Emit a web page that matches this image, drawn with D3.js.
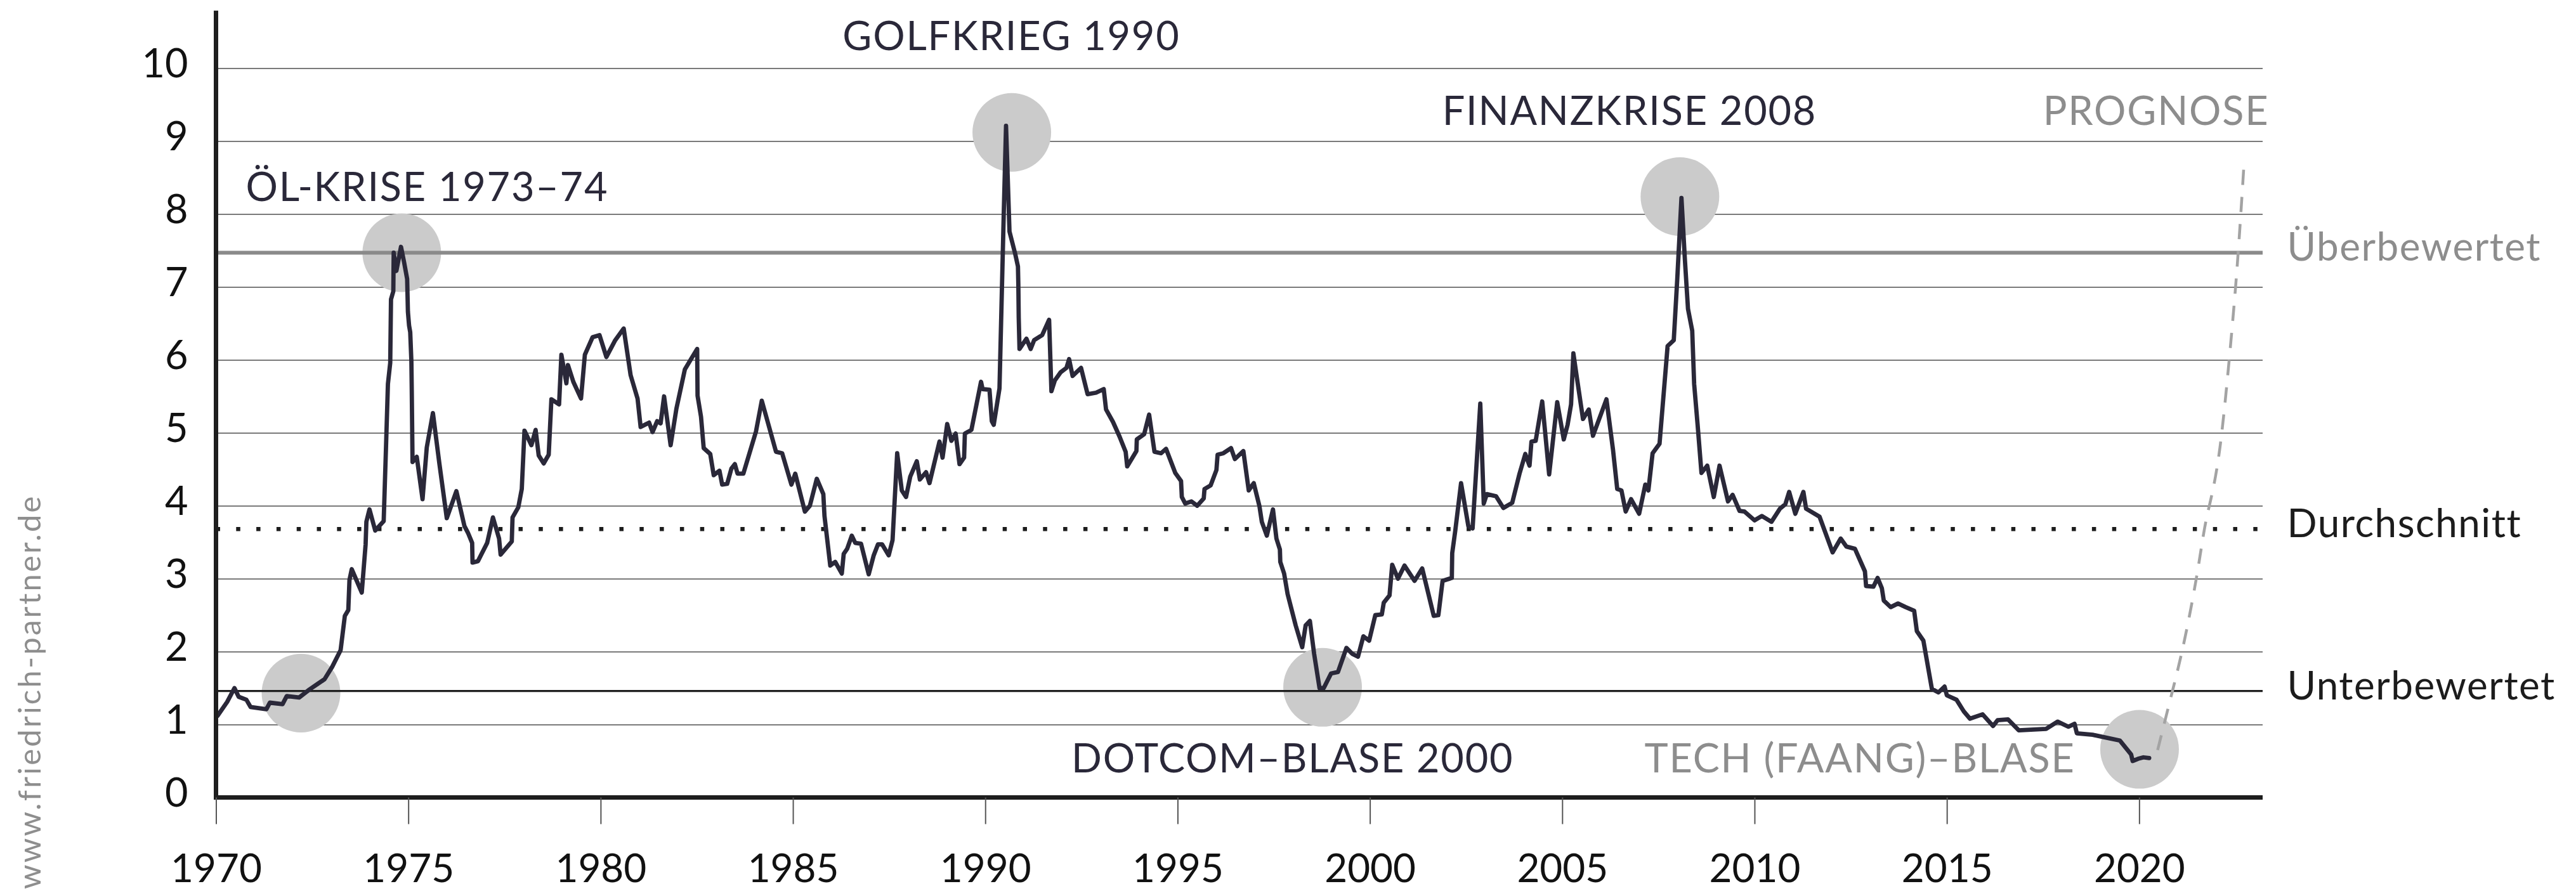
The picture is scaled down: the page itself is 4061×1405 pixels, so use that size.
<!DOCTYPE html>
<html>
<head>
<meta charset="utf-8">
<script src="https://cdn.jsdelivr.net/npm/d3@7/dist/d3.min.js"></script>
<style>
  html, body { margin: 0; padding: 0; background: #ffffff; }
  svg { display: block; font-family: Lato, "Open Sans", sans-serif; }
</style>
</head>
<body>
<svg id="chart" width="4061" height="1405"></svg>
<script>
// ---------------- DATA ----------------
const years = [
  1970.04,1970.29,1970.48,1970.59,1970.79,1970.90,1971.31,1971.40,1971.73,1971.84,
  1972.16,1972.43,1972.65,1972.82,1973.02,1973.24,1973.35,1973.44,1973.47,1973.53,
  1973.79,1973.89,1973.91,1973.99,1974.14,1974.36,1974.42,1974.47,1974.53,1974.55,
  1974.61,1974.62,1974.69,1974.81,1974.89,1974.97,1974.99,1975.02,1975.05,1975.08,
  1975.09,1975.11,1975.22,1975.37,1975.48,1975.64,1975.81,1976.00,1976.25,1976.46,
  1976.55,1976.66,1976.67,1976.81,1977.05,1977.20,1977.36,1977.40,1977.69,1977.71,
  1977.86,1977.95,1978.02,1978.20,1978.31,1978.39,1978.52,1978.65,1978.72,1978.92,
  1978.98,1979.11,1979.15,1979.29,1979.49,1979.59,1979.79,1979.97,1980.15,1980.38,
  1980.60,1980.78,1980.96,1981.04,1981.26,1981.35,1981.47,1981.56,1981.65,1981.82,
  1981.97,1982.19,1982.35,1982.51,1982.52,1982.61,1982.68,1982.85,1982.94,1983.09,
  1983.16,1983.29,1983.40,1983.49,1983.56,1983.71,1984.04,1984.19,1984.56,1984.72,
  1984.96,1985.06,1985.31,1985.44,1985.62,1985.79,1985.82,1985.97,1986.10,1986.27,
  1986.32,1986.41,1986.53,1986.62,1986.77,1986.97,1987.10,1987.21,1987.32,1987.49,
  1987.59,1987.71,1987.83,1987.94,1988.05,1988.22,1988.30,1988.46,1988.55,1988.81,
  1988.89,1989.01,1989.12,1989.23,1989.33,1989.45,1989.47,1989.64,1989.89,1989.93,
  1990.11,1990.17,1990.22,1990.37,1990.43,1990.48,1990.54,1990.63,1990.78,1990.85,
  1990.86,1990.87,1990.89,1991.07,1991.18,1991.27,1991.48,1991.66,1991.72,1991.81,
  1991.96,1992.11,1992.18,1992.27,1992.49,1992.66,1992.88,1993.08,1993.14,1993.32,
  1993.49,1993.65,1993.69,1993.93,1993.94,1994.13,1994.26,1994.40,1994.57,1994.70,
  1994.94,1995.09,1995.11,1995.20,1995.36,1995.51,1995.68,1995.70,1995.86,1996.01,
  1996.04,1996.19,1996.39,1996.49,1996.71,1996.85,1996.98,1997.13,1997.19,1997.32,
  1997.48,1997.57,1997.66,1997.67,1997.77,1997.86,1998.07,1998.24,1998.33,1998.44,
  1998.55,1998.69,1998.80,1998.99,1999.17,1999.39,1999.54,1999.69,1999.83,1999.98,
  2000.14,2000.31,2000.36,2000.51,2000.58,2000.73,2000.90,2001.16,2001.36,2001.66,
  2001.78,2001.89,2002.13,2002.14,2002.22,2002.37,2002.56,2002.67,2002.87,2002.96,
  2003.04,2003.28,2003.47,2003.70,2003.89,2004.04,2004.15,2004.20,2004.31,2004.48,
  2004.66,2004.87,2005.04,2005.14,2005.23,2005.29,2005.38,2005.54,2005.69,2005.80,
  2006.15,2006.32,2006.43,2006.54,2006.65,2006.79,2007.00,2007.16,2007.24,2007.35,
  2007.53,2007.74,2007.90,2007.99,2008.10,2008.19,2008.27,2008.38,2008.43,2008.52,
  2008.62,2008.77,2008.94,2009.09,2009.31,2009.43,2009.61,2009.74,2010.00,2010.19,
  2010.44,2010.66,2010.80,2010.90,2011.06,2011.27,2011.34,2011.69,2012.03,2012.24,
  2012.39,2012.61,2012.87,2012.90,2013.09,2013.20,2013.31,2013.36,2013.54,2013.73,
  2013.93,2014.15,2014.22,2014.39,2014.61,2014.78,2014.94,2015.00,2015.25,2015.44,
  2015.60,2015.93,2016.20,2016.32,2016.59,2016.87,2017.58,2017.88,2018.16,2018.32,
  2018.38,2018.79,2019.06,2019.50,2019.79,2019.83,2019.97,2020.11,2020.26
];
const ratios = [
  1.12,1.31,1.50,1.38,1.34,1.24,1.21,1.30,1.28,1.39,
  1.37,1.48,1.56,1.62,1.79,2.02,2.49,2.57,2.98,3.13,
  2.81,3.47,3.78,3.95,3.66,3.79,4.80,5.67,5.96,6.83,
  6.94,7.47,7.22,7.55,7.34,7.11,6.66,6.47,6.38,5.98,
  5.58,4.60,4.67,4.09,4.80,5.27,4.57,3.83,4.20,3.72,
  3.63,3.49,3.22,3.24,3.49,3.84,3.55,3.33,3.51,3.84,
  3.98,4.23,5.03,4.83,5.04,4.69,4.58,4.70,5.46,5.39,
  6.07,5.68,5.93,5.70,5.47,6.07,6.31,6.34,6.04,6.27,
  6.43,5.79,5.47,5.08,5.14,5.01,5.16,5.13,5.50,4.83,
  5.33,5.87,6.01,6.15,5.51,5.22,4.79,4.71,4.42,4.48,
  4.29,4.30,4.51,4.57,4.44,4.44,5.02,5.44,4.74,4.72,
  4.29,4.44,3.92,4.00,4.37,4.16,3.86,3.18,3.23,3.07,
  3.34,3.41,3.59,3.49,3.48,3.06,3.32,3.47,3.47,3.32,
  3.53,4.72,4.21,4.12,4.40,4.61,4.36,4.46,4.31,4.88,
  4.66,5.12,4.89,4.99,4.57,4.66,4.99,5.04,5.70,5.60,
  5.59,5.16,5.11,5.61,6.91,7.99,9.21,7.76,7.45,7.28,
  7.03,6.58,6.15,6.29,6.15,6.27,6.34,6.55,5.57,5.72,
  5.83,5.89,6.01,5.78,5.89,5.53,5.55,5.60,5.32,5.15,
  4.95,4.74,4.54,4.75,4.91,4.98,5.25,4.74,4.72,4.78,
  4.45,4.34,4.12,4.03,4.06,4.00,4.10,4.23,4.28,4.49,
  4.70,4.72,4.79,4.64,4.75,4.21,4.31,3.99,3.78,3.59,
  3.95,3.55,3.40,3.23,3.07,2.79,2.36,2.06,2.36,2.42,
  1.97,1.50,1.50,1.70,1.72,2.05,1.97,1.93,2.21,2.15,
  2.50,2.51,2.67,2.77,3.19,3.00,3.18,2.97,3.14,2.49,
  2.50,2.97,3.01,3.35,3.66,4.31,3.72,3.69,5.40,4.03,
  4.16,4.13,3.97,4.04,4.44,4.71,4.55,4.88,4.89,5.43,
  4.43,5.42,4.91,5.11,5.39,6.09,5.76,5.19,5.32,4.96,
  5.46,4.77,4.23,4.21,3.92,4.09,3.89,4.29,4.21,4.72,
  4.85,6.19,6.27,7.10,8.22,7.37,6.70,6.40,5.67,5.11,
  4.45,4.55,4.12,4.55,4.06,4.15,3.93,3.92,3.80,3.86,
  3.78,3.96,4.02,4.19,3.89,4.19,3.96,3.85,3.36,3.55,
  3.44,3.41,3.10,2.90,2.89,3.01,2.87,2.70,2.61,2.66,
  2.61,2.56,2.28,2.15,1.49,1.44,1.52,1.40,1.34,1.18,
  1.08,1.14,0.98,1.06,1.07,0.92,0.94,1.04,0.97,1.01,
  0.88,0.86,0.83,0.78,0.59,0.50,0.53,0.55,0.54
];

// forecast (dashed)
const forecastYears  = [2020.48,2020.85,2021.15,2021.52,2021.71,2021.87,2022.10,2022.32,2022.52,2022.65,2022.73];
const forecastValues = [0.65,1.43,2.05,3.07,3.77,4.08,4.70,5.87,7.04,8.05,8.73];

// highlighted events (circles)
const eventYears  = [1972.21,1974.83,1990.69,1998.77,2008.06,2020.01];
const eventValues = [1.43,7.47,9.12,1.51,8.24,0.66];

// annotation labels (anchored in data units)
const annoTexts  = ["ÖL-KRISE 1973–74","GOLFKRIEG 1990","FINANZKRISE 2008","DOTCOM–BLASE 2000","TECH (FAANG)–BLASE","PROGNOSE"];
const annoYears  = [1975.49,1990.68,2006.75,1997.99,2012.74,2020.44];
const annoValues = [8.18,10.25,9.22,0.34,0.34,9.22];
const annoMuted  = [false,false,false,false,true,true];

// reference levels
const refNames  = ["Überbewertet","Durchschnitt","Unterbewertet"];
const refValues = [7.47,3.68,1.46];

// axes
const xTicks = [1970,1975,1980,1985,1990,1995,2000,2005,2010,2015,2020];
const yTicks = [0,1,2,3,4,5,6,7,8,9,10];
const gridValues = [1,2,3,4,5,6,7,8,9,10];
const xDomain = [1970, 2023.21];
const yDomain = [0, 10];
const yAxisTopValue = 10.79;
const watermark = "www.friedrich-partner.de";

// ---------------- LAYOUT ----------------
const W = 4061, H = 1405;
const M = { left: 340.5, right: 494, top: 107.5, bottom: 147.5 };

const x = d3.scaleLinear().domain(xDomain).range([M.left, W - M.right]);
const y = d3.scaleLinear().domain(yDomain).range([H - M.bottom, M.top]);

const svg = d3.select("#chart");
svg.append("rect").attr("width", W).attr("height", H).attr("fill", "#ffffff");

const DARK = "#2a2839";
const GREY_TXT = "#8d8d8d";

// gridlines
svg.append("g").attr("class", "grid")
  .attr("transform", `translate(${M.left},0)`)
  .call(d3.axisLeft(y).tickValues(gridValues).tickSize(-(W - M.right - M.left)).tickFormat(""))
  .call(g => g.select(".domain").remove())
  .call(g => g.selectAll("line").attr("stroke", "#7a7a7a").attr("stroke-width", 2.2));

// event circles
const events = eventYears.map((d, i) => ({ year: d, value: eventValues[i] }));
svg.append("g").selectAll("circle").data(events).join("circle")
  .attr("cx", d => x(d.year)).attr("cy", d => y(d.value))
  .attr("r", 62).attr("fill", "#cbcbcb");

// reference lines
const [xa, xb] = x.range();
const refStyles = [
  { stroke: "#8a8a8a", width: 6, dash: null, color: GREY_TXT },
  { stroke: "#1c1c1c", width: 6.5, dash: "6.5 25.3", color: "#1c1c1c" },
  { stroke: "#1f1f1f", width: 3.4, dash: null, color: "#1c1c1c" }
];
const refs = refNames.map((n, i) => ({ name: n, value: refValues[i], style: refStyles[i] }));
const refG = svg.append("g");
refG.selectAll("line").data(refs).join("line")
  .attr("x1", xa).attr("x2", xb)
  .attr("y1", d => y(d.value)).attr("y2", d => y(d.value))
  .attr("stroke", d => d.style.stroke)
  .attr("stroke-width", d => d.style.width)
  .attr("stroke-dasharray", d => d.style.dash);
refG.selectAll("text").data(refs).join("text")
  .attr("x", xb + 38.5).attr("y", d => y(d.value) + 13)
  .attr("font-size", 62).attr("fill", d => d.style.color)
  .attr("letter-spacing", 1.5)
  .text(d => d.name);

// forecast dashed curve
const forecast = forecastYears.map((d, i) => ({ year: d, value: forecastValues[i] }));
svg.append("path").datum(forecast)
  .attr("fill", "none").attr("stroke", "#a3a3a3").attr("stroke-width", 4.5)
  .attr("stroke-dasharray", "24 19")
  .attr("d", d3.line().x(d => x(d.year)).y(d => y(d.value)).curve(d3.curveBasis));

// main series
const series = years.map((d, i) => ({ year: d, value: ratios[i] }));
svg.append("path").datum(series)
  .attr("fill", "none").attr("stroke", DARK).attr("stroke-width", 6.8)
  .attr("stroke-linejoin", "round").attr("stroke-linecap", "round")
  .attr("d", d3.line().x(d => x(d.year)).y(d => y(d.value)));

// y axis
svg.append("g").attr("transform", `translate(${M.left},0)`)
  .call(d3.axisLeft(y).tickValues(yTicks).tickSize(0).tickPadding(44).tickFormat(d3.format("d")))
  .call(g => g.select(".domain").remove())
  .call(g => g.selectAll("text").attr("font-size", 63).attr("font-family", "Lato, sans-serif")
      .attr("fill", "#111").attr("dy", "0.22em"));
svg.append("line")
  .attr("x1", M.left).attr("x2", M.left)
  .attr("y1", y(yAxisTopValue)).attr("y2", y(0) + 3.5)
  .attr("stroke", "#1e1e1e").attr("stroke-width", 7);

// x axis
const xAxisG = svg.append("g").attr("transform", `translate(0,${y(0)})`)
  .call(d3.axisBottom(x).tickValues(xTicks).tickSize(42).tickSizeOuter(0).tickPadding(47).tickFormat(d3.format("d")));
xAxisG.select(".domain").attr("stroke", "#1e1e1e").attr("stroke-width", 7)
  .attr("d", `M${M.left - 3.5},0H${xb}`);
xAxisG.selectAll(".tick line").attr("stroke", "#555").attr("stroke-width", 2);
xAxisG.selectAll("text").attr("font-size", 62).attr("font-family", "Lato, sans-serif").attr("fill", "#111");

// annotations
const annos = annoTexts.map((t, i) => ({ text: t, year: annoYears[i], value: annoValues[i], muted: annoMuted[i] }));
svg.append("g").selectAll("text").data(annos).join("text")
  .attr("x", d => x(d.year)).attr("y", d => y(d.value))
  .attr("text-anchor", "middle")
  .attr("font-size", 63)
  .attr("letter-spacing", 1.8)
  .attr("fill", d => d.muted ? GREY_TXT : DARK)
  .text(d => d.text);

// watermark
svg.append("text")
  .attr("transform", `translate(64,1402) rotate(-90)`)
  .attr("font-size", 49).attr("fill", "#8e8e8e").attr("letter-spacing", 3.2)
  .text(watermark);
</script>
</body>
</html>
